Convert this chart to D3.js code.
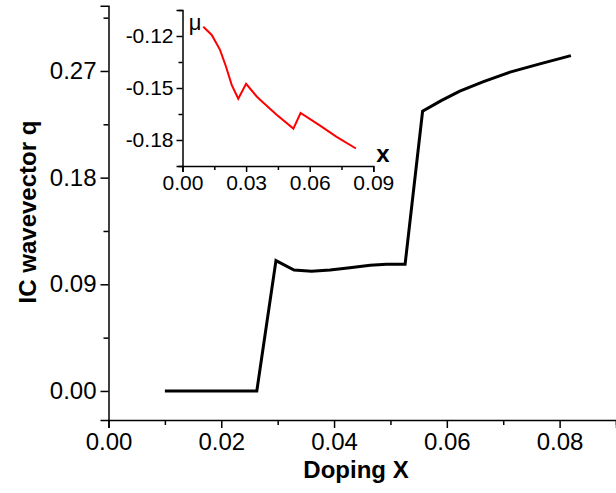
<!DOCTYPE html>
<html><head><meta charset="utf-8">
<script src="https://cdn.jsdelivr.net/npm/d3@7"></script>
<style>
body{margin:0;background:#fff;}
svg text{font-family:"Liberation Sans",Arial,sans-serif;}
</style></head>
<body><svg id="c" width="616" height="493"></svg>
<script>
// Main series: doping x vs IC wavevector q
const dopingX = [0.010, 0.0263, 0.0297, 0.0329, 0.0360, 0.0393, 0.0428, 0.0464, 0.0493, 0.0526, 0.0557, 0.0590, 0.0623, 0.0665, 0.0712, 0.0765, 0.0820];
const wavevectorQ = [0, 0, 0.110, 0.102, 0.101, 0.102, 0.104, 0.106, 0.107, 0.107, 0.236, 0.245, 0.253, 0.261, 0.269, 0.276, 0.283];
const mainXTicks = [0, 0.02, 0.04, 0.06, 0.08];
const mainXMinor = [0.01, 0.03, 0.05, 0.07, 0.09];
const mainYTicks = [0, 0.09, 0.18, 0.27];
const mainYMinor = [0.045, 0.135, 0.225, 0.315];
// Inset: chemical potential mu vs x
const insetX = [0.0098, 0.0138, 0.0177, 0.0205, 0.0232, 0.0263, 0.0300, 0.0350, 0.0366, 0.0444, 0.0523, 0.0557, 0.0649, 0.0727, 0.0818];
const insetMu = [-0.1147, -0.1194, -0.1280, -0.1376, -0.1482, -0.1562, -0.1476, -0.1549, -0.1568, -0.1654, -0.1734, -0.1644, -0.1717, -0.1782, -0.1849];
const insetXTicks = [0, 0.03, 0.06, 0.09];
const insetXMinor = [0.015, 0.045, 0.075];
const insetYTicks = [-0.12, -0.15, -0.18];
const insetYMinor = [-0.105, -0.135, -0.165, -0.195];

const svg = d3.select("#c");
const fmt = v => d3.format(".2f")(v).replace("\u2212", "-");

function drawAxis(g, scale, orient, major, minor, fs, majLen, minLen, pad){
  const mk = orient === "bottom" ? d3.axisBottom : d3.axisLeft;
  const a = g.append("g").call(mk(scale).tickValues(major).tickFormat(fmt).tickSize(majLen).tickPadding(pad));
  a.select(".domain").attr("stroke-width",1.5).attr("stroke","#000");
  a.selectAll(".tick line").attr("stroke-width",1.5);
  a.selectAll(".tick text").attr("font-size",fs).attr("fill","#000").style("font-family","'Liberation Sans',Arial,sans-serif");
  const b = g.append("g").call(mk(scale).tickValues(minor).tickFormat("").tickSize(minLen));
  b.select(".domain").remove();
  b.selectAll(".tick line").attr("stroke-width",1.5);
  return a;
}

// main chart
const x = d3.scaleLinear().domain([0, 0.09]).range([108.5, 616]);
const y = d3.scaleLinear().domain([-0.0245, 0.325]).range([420, 5.8]);

const gx = svg.append("g").attr("transform", `translate(0,${y.range()[0]})`);
drawAxis(gx, x, "bottom", mainXTicks, mainXMinor, 24, 8, 5, 5);
const gy = svg.append("g").attr("transform", `translate(${x.range()[0]},0)`);
drawAxis(gy, y, "left", mainYTicks, mainYMinor, 24, 8, 5, 4);

svg.append("path").datum(d3.zip(dopingX, wavevectorQ))
  .attr("fill","none").attr("stroke","#000").attr("stroke-width",3).attr("stroke-linejoin","miter")
  .attr("d", d3.line().x(d=>x(d[0])).y(d=>y(d[1])));

svg.append("text").attr("x", 356).attr("y", 478).attr("text-anchor","middle")
  .attr("font-size",24).attr("font-weight","bold").text("Doping X");
svg.append("text").attr("transform","translate(36,212) rotate(-90)").attr("text-anchor","middle")
  .attr("font-size",24).attr("font-weight","bold").text("IC wavevector q");

// inset
const ix = d3.scaleLinear().domain([0, 0.09]).range([182.5, 373.3]);
const iy = d3.scaleLinear().domain([-0.195, -0.105]).range([166, 10]);
const igx = svg.append("g").attr("transform", `translate(0,${iy.range()[0]})`);
drawAxis(igx, ix, "bottom", insetXTicks, insetXMinor, 21, 6, 4, 3);
const igy = svg.append("g").attr("transform", `translate(${ix.range()[0]},0)`);
drawAxis(igy, iy, "left", insetYTicks, insetYMinor, 21, 6, 4, 3);

svg.append("path").datum(d3.zip(insetX, insetMu))
  .attr("fill","none").attr("stroke","#ff0000").attr("stroke-width",2)
  .attr("d", d3.line().x(d=>ix(d[0])).y(d=>iy(d[1])));

svg.append("text").attr("x", 195).attr("y", 30).attr("text-anchor","middle")
  .attr("font-size",22).text("μ");
svg.append("text").attr("x", 383).attr("y", 162).attr("text-anchor","middle")
  .attr("font-size",24).attr("font-weight","bold").text("x");
</script></body></html>
